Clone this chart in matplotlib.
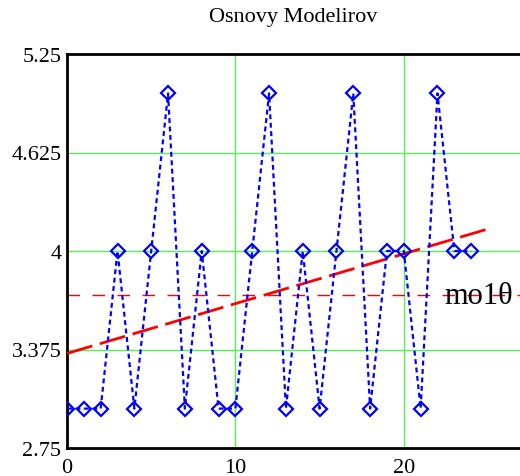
import numpy as np
import matplotlib.pyplot as plt

# sample index and measured values (blue series)
idx = [0, 1, 2, 3, 4, 5, 6, 7, 8, 9, 10, 11, 12, 13, 14, 15, 16, 17, 18, 19, 20, 21, 22, 23, 24]
vals = [3, 3, 3, 4, 3, 4, 5, 3, 4, 3, 3, 4, 5, 3, 4, 3, 4, 5, 3, 4, 4, 3, 5, 4, 4]

# trend line end points (red)
trend_x = [0, 25]
trend_y = [3.35, 4.14]

y_ticks = [2.75, 3.375, 4, 4.625, 5.25]
y_labels = ["2.75", "3.375", "4", "4.625", "5.25"]
x_ticks = [0, 10, 20]

plt.rcParams["font.family"] = ["Liberation Serif", "DejaVu Serif"]

fig = plt.figure(figsize=(5.2, 4.77), dpi=100)
ax = fig.add_axes([67 / 520, 28 / 477, 1 - 67 / 520, 394 / 477])

ax.set_xlim(0, 26.9)
ax.set_ylim(2.75, 5.25)

# green grid at the major ticks
for gx in [10, 20]:
    ax.axvline(gx, color="#55f055", lw=1, zorder=1)
for gy in [3.375, 4, 4.625]:
    ax.axhline(gy, color="#55f055", lw=1, zorder=1)

mean_val = np.mean(vals)
ax.axhline(mean_val, color="red", lw=1.0, linestyle=(0, (9, 9)), zorder=2)

ax.plot(trend_x, trend_y, color="red", lw=2.0,
        linestyle=(0, (9.5, 2.8)), zorder=3)

ax.plot(idx, vals, color="blue", lw=1.6, linestyle=(0, (2.2, 1.6)),
        marker="D", markersize=7, markerfacecolor="none",
        markeredgecolor="blue", markeredgewidth=1.6, zorder=4)

ax.text(22.4, mean_val, "mo1\u03b8", fontsize=22, va="center", ha="left", zorder=5)

ax.set_yticks(y_ticks)
ax.set_yticklabels(y_labels)
ax.set_xticks(x_ticks)
ax.tick_params(length=0, labelsize=16)
ax.tick_params(axis="y", pad=4)
ax.tick_params(axis="x", pad=7)

for side in ["left", "bottom", "top"]:
    ax.spines[side].set_linewidth(2)
    ax.spines[side].set_color("black")
ax.spines["right"].set_visible(False)

ax.set_title("Osnovy Modelirov", fontsize=16, pad=24)

fig.savefig("out.png", dpi=100)
